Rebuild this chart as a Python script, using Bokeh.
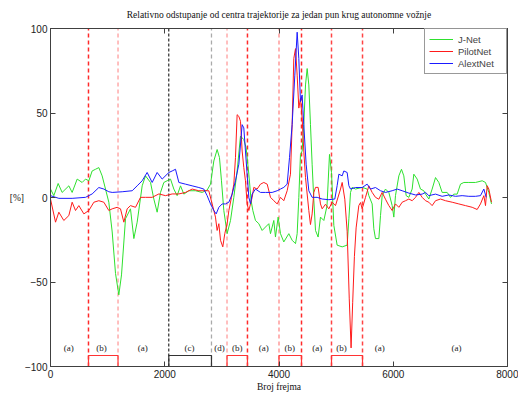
from bokeh.plotting import figure
from bokeh.models import Range1d, LinearAxis, FixedTicker, Legend, LegendItem
from bokeh.embed import file_html
from bokeh.resources import INLINE
from bokeh.core.properties import value

# ---------------- data ----------------
jnet_frames = [0, 58, 134, 204, 321, 379, 467, 554, 613, 671, 729, 788, 846, 904, 963, 1021, 1080, 1138, 1196, 1243,
               1313, 1400, 1459, 1517, 1605, 1663, 1751, 1809, 1867, 1926, 1984, 2042, 2101, 2159, 2217, 2276, 2334,
               2422, 2538, 2655, 2742, 2801, 2859, 2917, 2958, 2993, 3034, 3092, 3151, 3209, 3267, 3326, 3384, 3425,
               3472, 3512, 3542, 3588, 3647, 3705, 3763, 3822, 3851, 3909, 3938, 3985, 4026, 4084, 4172, 4230, 4289,
               4318, 4347, 4376, 4405, 4434, 4464, 4493, 4522, 4551, 4580, 4610, 4639, 4685, 4726, 4785, 4840, 4884,
               4919, 4960, 5018, 5106, 5193, 5223, 5252, 5281, 5339, 5456, 5543, 5573, 5631, 5660, 5689, 5748, 5777,
               5806, 5864, 5923, 5981, 6010, 6039, 6098, 6144, 6185, 6226, 6273, 6331, 6360, 6419, 6477, 6535, 6565,
               6623, 6681, 6740, 6798, 6856, 6944, 7002, 7061, 7119, 7177, 7236, 7323, 7440, 7557, 7615, 7673, 7720]
jnet_vals = [5.0, 1.1, 8.3, 3.0, 6.9, 3.0, 10.9, 8.9, 10.9, 9.9, 15.7, 16.7, 17.7, 12.8, 5.0, -2.8, -20.4, -44.9, -57.6, -45.8,
             -12.6, -6.7, -24.3, -14.6, 6.9, 12.8, 8.9, -0.9, -8.7, 3.0, 8.9, 9.9, 10.9, 5.0, 1.1, 6.9, 2.0,
             4.0, 4.0, 3.0, 4.4, 7.9, 21.6, 28.4, 23.6, 9.9, -7.7, -21.4, -13.6, 0.1, 15.7, 36.3, 34.3, 29.4,
             13.8, -1.9, -7.7, -13.6, -15.5, -19.5, -17.5, -15.5, -21.4, -13.6, -23.4, -11.6, -21.4, -26.3, -21.4, -25.3, -27.3,
             -21.4, 0.1, 25.5, 27.5, 43.1, 66.6, 76.3, 66.6, 43.1, 19.7, -1.9, -19.5, -23.4, -11.6, -13.6, -5.0, 25.5,
             14.8, -16.5, -28.2, -29.2, -28.2, -12.6, 3.0, 6.0, 5.0, 6.0, 5.0, 1.1, -3.8, -18.5, -24.3, -24.3, -10.7,
             1.1, 5.0, 3.0, -4.8, -11.6, 1.1, 12.8, 16.7, 12.8, 1.1, 0.1, 5.0, 13.8, 10.9, 5.0, 4.0, 2.0,
             -0.9, 5.0, 11.8, 8.9, 3.0, 3.0, 0.1, 2.0, 2.0, 7.9, 8.9, 8.9, 8.9, 9.9, 8.9, 3.0, -3.8]

pilot_frames = [0, 88, 146, 233, 321, 379, 438, 496, 584, 671, 759, 846, 934, 1021, 1080, 1167, 1225, 1284, 1342, 1400,
                1488, 1576, 1663, 1780, 1897, 2013, 2130, 2247, 2363, 2480, 2597, 2771, 2830, 2888, 2917, 2947, 2976,
                3016, 3051, 3092, 3122, 3168, 3209, 3238, 3267, 3297, 3326, 3355, 3384, 3413, 3442, 3472, 3501, 3530,
                3559, 3617, 3676, 3734, 3793, 3851, 3909, 3968, 4026, 4084, 4143, 4201, 4230, 4259, 4289, 4318, 4347,
                4376, 4405, 4434, 4464, 4522, 4551, 4580, 4610, 4639, 4685, 4726, 4756, 4814, 4872, 4931, 4989, 5077,
                5106, 5152, 5193, 5230, 5262, 5290, 5320, 5350, 5397, 5427, 5456, 5514, 5573, 5631, 5689, 5748, 5806,
                5864, 5923, 5981, 6039, 6098, 6156, 6215, 6273, 6331, 6390, 6448, 6506, 6565, 6623, 6681, 6740, 6827,
                6915, 7032, 7148, 7265, 7382, 7469, 7527, 7586, 7615, 7644, 7673, 7720]
pilot_vals = [-0.9, -14.6, -8.7, -13.6, -10.7, -2.8, -7.7, -4.8, -9.7, -7.7, -2.8, -1.9, -2.8, -7.7, -6.7, -5.8, -6.7, -14.6, -6.7, -4.8,
              -5.8, 0.1, 0.1, 0.1, 2.1, 1.1, 2.1, 2.1, 3.0, 5.0, 4.0, 4.0, -3.8, -11.6, -19.5, -15.5, -25.3,
              -29.2, -21.4, -15.5, -7.7, 0.1, 7.9, 23.6, 49.0, 48.0, 45.1, 27.5, 17.7, 9.9, -3.8, -7.7, -3.8, 0.1,
              6.0, 5.0, 7.9, 8.9, 7.9, 0.1, -1.9, -3.8, 0.1, -1.9, 4.0, 13.8, 43.1, 82.2, 88.1, 72.4, 52.9,
              58.8, 47.0, 27.5, 11.8, -7.7, -16.0, -9.7, 3.0, 6.0, 6.0, -3.8, -6.7, -4.0, -6.7, -2.8, -4.8, 5.0,
              8.9, -1.0, -20.0, -60.0, -89.0, -62.0, -35.0, -18.0, -4.8, -3.0, -6.7, 0.1, 6.9, 3.0, 0.1, -1.0, 3.0,
              -1.0, -4.8, -7.7, -3.8, -5.8, -2.8, -1.9, -0.9, -1.9, 0.1, 3.0, 0.1, -1.9, -2.8, -4.8, -1.9, -0.9,
              -1.9, -2.8, -3.8, -4.8, -5.8, -7.1, -3.8, 1.1, -4.8, 7.0, 5.0, -2.8]

alex_frames = [0, 146, 379, 613, 729, 846, 934, 1021, 1080, 1255, 1430, 1517, 1605, 1692, 1780, 1867, 1955, 2072, 2130,
               2188, 2247, 2363, 2480, 2597, 2684, 2742, 2801, 2859, 2900, 2947, 3005, 3063, 3122, 3180, 3238, 3297,
               3355, 3384, 3413, 3442, 3472, 3501, 3530, 3588, 3676, 3763, 3880, 3968, 4026, 4084, 4143, 4184, 4230,
               4277, 4318, 4347, 4376, 4405, 4434, 4475, 4522, 4580, 4668, 4756, 4872, 4977, 5018, 5048, 5106, 5135,
               5193, 5223, 5252, 5339, 5456, 5543, 5602, 5689, 5777, 5864, 5981, 6069, 6156, 6273, 6390, 6506, 6565,
               6623, 6740, 6856, 6973, 7090, 7206, 7323, 7440, 7527, 7586, 7627]
alex_vals = [1.1, -0.5, -0.5, 0.1, 2.1, 5.9, 5.0, 3.4, 3.0, 3.4, 4.0, 6.9, 9.9, 14.8, 8.9, 14.8, 10.9, 14.8, 15.7,
             16.7, 8.9, 7.9, 6.9, 5.9, 5.0, 1.1, -3.8, -7.7, -9.7, -5.8, -3.8, -3.8, -2.8, 2.0, 9.9, 19.7,
             43.1, 41.2, 27.5, 13.8, 0.1, -3.8, 2.0, 5.0, 3.0, 3.0, 3.0, 4.0, 5.0, 6.0, 7.9, 23.6, 43.1,
             72.4, 97.8, 82.2, 56.8, 60.7, 43.1, 19.7, 4.0, 0.1, 0.1, -0.9, -1.3, -0.9, 7.0, 13.8, 12.8, 15.7,
             14.8, 7.0, 5.0, 5.9, 5.9, 7.9, 5.0, 5.9, 4.0, 3.0, 4.0, 5.0, 4.0, 2.6, 1.5, 2.0, 3.0,
             1.1, 2.0, 0.7, 1.5, 0.7, 1.1, 0.7, 0.7, 1.1, 5.0, 0.1]

# phase boundaries (frames) and segment boxes
boundaries = [665, 1182, 2071, 2818, 3090, 3448, 4000, 4394, 4919, 5462]
box_left = [665, 2071, 3090, 4000, 4919]
box_right = [1182, 2818, 3448, 4394, 5462]
seg_label_x = [321, 893, 1616, 2433, 2958, 3268, 3734, 4189, 4668, 5094, 5765, 7107]
seg_labels = ["(a)", "(b)", "(a)", "(c)", "(d)", "(b)", "(a)", "(b)", "(a)", "(b)", "(a)", "(a)"]
x_ticks = [0, 2000, 4000, 6000, 8000]
y_ticks = [-100, -50, 0, 50, 100]

# ---------------- styles ----------------
boundary_colors = ["#ff2a2a", "#ffaaaa", "#000000", "#aaaaaa", "#ffaaaa", "#ff2a2a",
                   "#ff9a9a", "#ff2a2a", "#ff4444", "#ff4444"]
boundary_dash = ["4 3", "4 3", "3 2", "4 3", "4 3", "4 3", "4 3", "4 3", "4 3", "4 3"]
boundary_width = [1.5, 1.5, 1.0, 1.3, 1.5, 1.5, 1.5, 1.5, 1.5, 1.5]
box_colors = ["#ff3333", "#333333", "#ff3333", "#ff3333", "#ff3333"]

SERIF = "Liberation Serif"
SANS = "Liberation Sans"
AX = "#404040"

p = figure(width=518, height=394, output_backend="svg", toolbar_location=None,
           x_range=Range1d(0, 8000), y_range=Range1d(-100, 100),
           min_border_left=50, min_border_right=11, min_border_top=28, min_border_bottom=25)

p.title.text = "Relativno odstupanje od centra trajektorije za jedan pun krug autonomne vožnje"
p.title.align = "center"
p.title.text_font = SERIF
p.title.text_font_size = "9.5px"
p.title.text_font_style = "normal"
p.title.text_color = "#111111"
p.title.standoff = 2

p.xgrid.visible = False
p.ygrid.visible = False
p.outline_line_color = AX
p.background_fill_color = "white"
p.border_fill_color = "white"

# boundary lines
for b, c, d, w in zip(boundaries, boundary_colors, boundary_dash, boundary_width):
    p.segment(x0=[b], y0=[-100], x1=[b], y1=[100], line_color=c, line_dash=d, line_width=w)

p.quad(left=box_left, right=box_right, bottom=[-100] * len(box_left), top=[-93.5] * len(box_left),
       fill_color=None, line_color=box_colors, line_width=1.2)

p.text(x=seg_label_x, y=[-89] * len(seg_label_x), text=seg_labels, text_font=value(SERIF),
       text_font_size="9px", text_align="center", text_baseline="middle", text_color="#222222")

g = p.line(jnet_frames, jnet_vals, line_color="#2ee02e", line_width=1)
r = p.line(pilot_frames, pilot_vals, line_color="#ff1a1a", line_width=1)
bl = p.line(alex_frames, alex_vals, line_color="#1a1aff", line_width=1)

# axes
def style_axis(ax, labels=True):
    ax.axis_line_color = AX
    ax.major_tick_line_color = AX
    ax.major_tick_in = 5
    ax.major_tick_out = 0
    ax.minor_tick_line_color = None
    ax.major_label_text_font = SANS
    ax.major_label_text_font_size = "10px" if labels else "0px"
    ax.major_label_text_color = "#222222" if labels else None
    ax.major_label_standoff = 3 if labels else 0

p.xaxis.ticker = FixedTicker(ticks=x_ticks)
p.yaxis.ticker = FixedTicker(ticks=y_ticks)
style_axis(p.xaxis[0])
style_axis(p.yaxis[0])
p.xaxis.major_label_standoff = 3
p.xaxis.axis_label = "Broj frejma"
p.xaxis.axis_label_text_font = SERIF
p.xaxis.axis_label_text_font_size = "9.5px"
p.xaxis.axis_label_text_font_style = "normal"
p.xaxis.axis_label_text_color = "#111111"
p.xaxis.axis_label_standoff = 1

p.yaxis.axis_label = "[%]"
p.yaxis.axis_label_text_font = SERIF
p.yaxis.axis_label_text_font_size = "9.5px"
p.yaxis.axis_label_text_font_style = "normal"
p.yaxis.axis_label_text_color = "#111111"
p.yaxis.axis_label_standoff = -2
try:
    p.yaxis[0].axis_label_orientation = "horizontal"
except Exception:
    pass

top_ax = LinearAxis(ticker=FixedTicker(ticks=x_ticks))
right_ax = LinearAxis(ticker=FixedTicker(ticks=y_ticks))
style_axis(top_ax, labels=False)
style_axis(right_ax, labels=False)
# invisible spacer labels on the top axis lift the title
top_ax.major_label_text_font_size = "2px"
top_ax.major_label_text_color = "white"
top_ax.major_label_standoff = 4
p.add_layout(top_ax, "above")
p.add_layout(right_ax, "right")

legend = Legend(items=[LegendItem(label="J-Net", renderers=[g]),
                       LegendItem(label="PilotNet", renderers=[r]),
                       LegendItem(label="AlextNet", renderers=[bl])],
                location="top_right")
legend.margin = 0
legend.padding = 4
legend.spacing = 0
legend.label_text_font = SANS
legend.label_text_font_size = "9.5px"
legend.glyph_width = 24
legend.glyph_height = 12
legend.label_height = 12
legend.label_width = 44
legend.label_standoff = 5
legend.border_line_color = "#333333"
legend.background_fill_color = "white"
p.add_layout(legend)

open("out.html", "w").write(file_html(p, INLINE))
